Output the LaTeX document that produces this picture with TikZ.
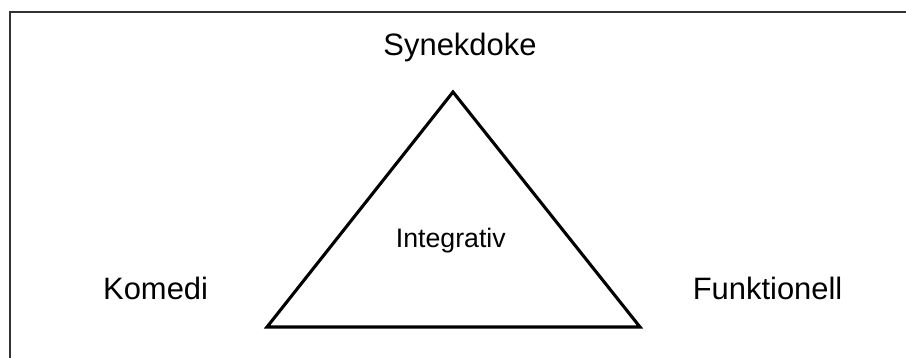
\documentclass[tikz,border=0pt]{standalone}
\usepackage{fontspec}
\setmainfont{Liberation Sans}
\usepackage{tikz}
\usetikzlibrary{positioning,calc}

\begin{document}
\begin{tikzpicture}[
		label/.style={inner sep=0pt, anchor=base, font=\fontsize{22}{26}\selectfont},
		inner/.style={inner sep=0pt, anchor=base, font=\fontsize{19}{23}\selectfont},
		frame/.style={draw=black!80, line width=1.4pt},
		corner/.style={line width=2.2pt, line join=miter}
	]
	\useasboundingbox (0,0) rectangle (22.65,8.95);

	% frame, open at right and bottom
	\draw[frame] (0.25,0) -- (0.25,8.65) -- (22.65,8.65);

	% triangle
	\coordinate (top) at (11.325,6.65);
	\coordinate (left) at (6.675,0.775);
	\coordinate (right) at (16.0,0.775);
	\draw[corner] (top) -- (left) -- (right) -- cycle;

	\node[label] (syn) at (11.5,7.55) {Synekdoke};
	\node[label] (kom) at (3.89,1.47) {Komedi};
	\node[label] (fun) at (19.19,1.47) {Funktionell};
	\node[inner] (int) at (11.27,2.77) {Integrativ};
\end{tikzpicture}
\end{document}
